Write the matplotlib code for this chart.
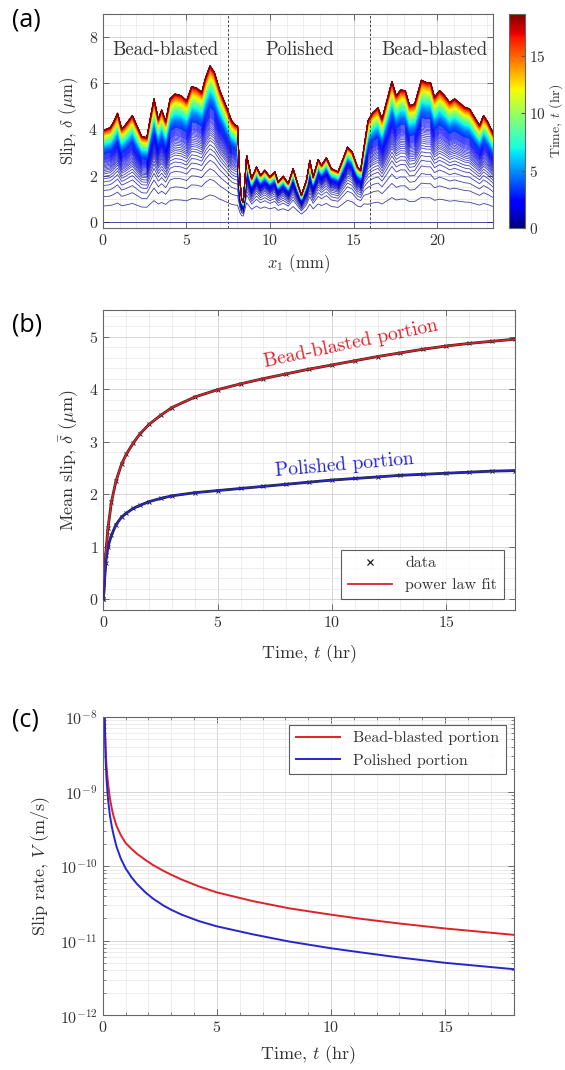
import numpy as np
import matplotlib as mpl
import matplotlib.pyplot as plt
from matplotlib.ticker import MultipleLocator, LogLocator, NullFormatter

plt.rcParams['font.family'] = 'serif'
plt.rcParams['font.serif'] = ['cmr10']
plt.rcParams['mathtext.fontset'] = 'cm'
plt.rcParams['axes.formatter.use_mathtext'] = True

# --- panel (a): final slip profile along the interface (t = end of test) ---
x_pos = [0.0, 0.44, 0.64, 0.88, 1.13, 1.33, 1.77, 2.03, 2.33, 2.63, 2.83, 3.06, 3.32,
         3.52, 3.76, 4.02, 4.32, 4.68, 5.01, 5.31, 5.61, 5.91, 6.15, 6.41, 6.67, 7.00,
         7.40, 7.70, 7.94, 8.06, 8.20, 8.30, 8.40, 8.60, 8.90, 9.19, 9.43, 9.69, 9.99,
         10.29, 10.49, 10.79, 11.09, 11.38, 11.68, 11.88, 12.18, 12.38, 12.58, 12.88,
         13.08, 13.37, 13.67, 14.07, 14.37, 14.63, 14.91, 15.23, 15.42, 15.62, 15.86,
         16.16, 16.46, 16.70, 17.29, 17.55, 17.81, 18.09, 18.35, 18.65, 19.05, 19.35,
         19.60, 19.84, 20.14, 20.44, 20.74, 21.04, 21.33, 21.63, 21.93, 22.23, 22.53,
         22.77, 23.03, 23.35]
slip_final = [3.95, 4.07, 4.31, 4.70, 4.02, 4.17, 4.60, 4.17, 3.69, 3.64, 4.45, 5.32, 4.45,
              4.84, 4.35, 5.32, 5.53, 5.46, 5.24, 5.85, 5.79, 5.60, 6.25, 6.75, 6.47, 5.68,
              4.96, 4.38, 4.17, 4.15, 1.80, 1.00, 0.85, 2.87, 1.87, 2.37, 2.01, 2.23, 1.94,
              2.16, 1.72, 1.97, 1.65, 2.30, 1.58, 1.15, 1.80, 2.66, 1.94, 2.69,
              2.44, 2.77, 2.30, 2.16, 2.73, 3.23, 3.02, 2.37, 2.23, 3.23, 4.38,
              4.74, 4.93, 4.45, 6.08, 5.46, 5.70, 5.68, 5.03, 5.10, 6.13, 6.03,
              6.03, 5.39, 5.68, 5.46, 5.17, 5.32, 5.15, 4.96, 4.89, 4.53, 4.17,
              4.60, 4.31, 3.81]
region_edges = [7.5, 16.0]
region_names = ['Bead-blasted', 'Polished', 'Bead-blasted']
region_text_x = [3.75, 11.8, 19.85]
snapshot_step = 0.1   # hr between profiles
t_end = 18.7

# --- panel (b): mean slip vs time ---
t_mean = [0, 0.1, 0.2, 0.35, 0.55, 0.8, 1.0, 1.3, 1.6, 2.0, 2.5, 3, 4, 5, 6, 7, 8, 9,
          10, 11, 12, 13, 14, 15, 16, 17, 18]
slip_bead = [0, 0.85, 1.35, 1.85, 2.25, 2.58, 2.76, 2.97, 3.15, 3.33, 3.50, 3.65, 3.85,
             3.99, 4.10, 4.20, 4.29, 4.38, 4.46, 4.54, 4.62, 4.69, 4.76, 4.82, 4.87,
             4.91, 4.95]
slip_pol = [0, 0.70, 1.00, 1.22, 1.42, 1.57, 1.64, 1.73, 1.79, 1.86, 1.92, 1.97, 2.03,
            2.07, 2.11, 2.15, 2.19, 2.23, 2.27, 2.30, 2.33, 2.36, 2.38, 2.40, 2.42,
            2.44, 2.45]

# --- panel (c): slip rate vs time (log10 m/s) ---
t_rate = [0.08, 0.12, 0.16, 0.20, 0.24, 0.31, 0.40, 0.47, 0.60, 0.79, 1.0, 1.26, 1.5,
          1.88, 2.2, 2.67, 3.0, 3.46, 4.2, 4.98, 6.6, 8.17, 10.0, 11.3, 12.9, 15.0, 18.0]
logv_bead = [-8.0, -8.40, -8.65, -8.80, -8.92, -9.09, -9.24, -9.33, -9.46, -9.585, -9.69,
             -9.77, -9.835, -9.92, -9.985, -10.065, -10.115, -10.18, -10.27, -10.35,
             -10.47, -10.565, -10.65, -10.705, -10.765, -10.835, -10.92]
logv_pol = [-8.0, -8.55, -8.83, -9.00, -9.14, -9.32, -9.48, -9.58, -9.74, -9.90, -10.03,
            -10.15, -10.24, -10.355, -10.435, -10.53, -10.585, -10.65, -10.735, -10.805,
            -10.915, -11.01, -11.10, -11.155, -11.22, -11.295, -11.38]

RED = '#e0202a'
BLUE = '#2525d0'
TXT = '#333333'


def style(ax, minor_len=0):
    ax.tick_params(which='both', direction='in', top=True, right=True,
                   labelsize=11.5, colors='#555555', labelcolor=TXT)
    ax.tick_params(which='major', length=4, width=0.6)
    ax.tick_params(which='minor', length=minor_len, width=0.5)
    ax.grid(which='major', color='#cfcfcf', lw=0.6)
    ax.grid(which='minor', color='#e6e6e6', lw=0.5)
    ax.set_axisbelow(True)
    for s in ax.spines.values():
        s.set_color('#666666')
        s.set_linewidth(0.8)


fig = plt.figure(figsize=(5.65, 10.7), dpi=100)

# ---------------- (a) ----------------
ax1 = fig.add_axes([0.182, 0.787, 0.691, 0.200])
xp = np.array(x_pos)
prof = np.array(slip_final)
# weight: 1 on bead-blasted parts, 0 on polished part
w_bead = np.interp(xp, [8.1, 8.35, 15.5, 15.8], [1, 0, 0, 1])
cmap = plt.get_cmap('jet')
norm = mpl.colors.Normalize(vmin=0, vmax=t_end)
times = np.arange(0, t_end + 1e-9, snapshot_step)
for t in times:
    r_b = np.interp(t, t_mean, slip_bead) / slip_bead[-1]
    r_p = np.interp(t, t_mean, slip_pol) / slip_pol[-1]
    ratio = w_bead * r_b + (1 - w_bead) * r_p
    ax1.plot(xp, prof * ratio, color=cmap(norm(t)), lw=0.6,
             alpha=0.75 if t < 3 else 1.0)
for xe in region_edges:
    ax1.axvline(xe, color='#444444', ls=(0, (2.5, 2)), lw=0.7)
for name, xt in zip(region_names, region_text_x):
    ax1.text(xt, 7.45, name, ha='center', va='center', fontsize=13.5, color=TXT)
ax1.set_xlim(0, 23.35)
ax1.set_ylim(-0.27, 9)
ax1.xaxis.set_major_locator(MultipleLocator(5))
ax1.xaxis.set_minor_locator(MultipleLocator(1))
ax1.yaxis.set_major_locator(MultipleLocator(2))
ax1.yaxis.set_minor_locator(MultipleLocator(0.5))
style(ax1)
ax1.set_xlabel(r'$x_1$ (mm)', fontsize=12, color=TXT, labelpad=3)
ax1.set_ylabel(r'Slip, $\delta$ ($\mu$m)', fontsize=12, color=TXT, labelpad=6)

cax = fig.add_axes([0.901, 0.787, 0.028, 0.200])
cb = fig.colorbar(mpl.cm.ScalarMappable(norm=norm, cmap=cmap), cax=cax)
cb.set_ticks([0, 5, 10, 15])
cb.ax.tick_params(labelsize=11, direction='in', length=3, colors='#555555',
                  labelcolor=TXT, pad=3)
cb.outline.set_edgecolor('#666666')
cb.outline.set_linewidth(0.8)
cb.set_label(r'Time, $t$ (hr)', fontsize=10, color=TXT, labelpad=1)

# ---------------- (b) ----------------
ax2 = fig.add_axes([0.183, 0.430, 0.728, 0.280])
for ys, col in [(slip_bead, RED), (slip_pol, BLUE)]:
    ax2.plot(t_mean, ys, '-', color='#222222', lw=2.0, zorder=2)
    ax2.plot(t_mean, ys, 'x', color='#222222', ms=3, mew=0.7, zorder=2)
    ax2.plot(t_mean, ys, '-', color=col, lw=1.2, zorder=3)
h_data, = ax2.plot([], [], 'x', color='#222222', ms=5, mew=0.9, label='data')
h_fit, = ax2.plot([], [], '-', color=RED, lw=1.3, label='power law fit')
ax2.text(10.85, 4.86, 'Bead-blasted portion', rotation=12, ha='center', va='center',
         fontsize=14, color=RED)
ax2.text(10.55, 2.55, 'Polished portion', rotation=5, ha='center', va='center',
         fontsize=14, color=BLUE)
ax2.set_xlim(0, 18)
ax2.set_ylim(-0.2, 5.5)
ax2.xaxis.set_major_locator(MultipleLocator(5))
ax2.xaxis.set_minor_locator(MultipleLocator(1))
ax2.yaxis.set_major_locator(MultipleLocator(1))
ax2.yaxis.set_minor_locator(MultipleLocator(0.2))
style(ax2)
leg = ax2.legend(handles=[h_data, h_fit], loc='lower right', fontsize=11.5,
                 frameon=True, fancybox=False, edgecolor='#333333', handlelength=2.8,
                 borderaxespad=0.7, labelcolor=TXT)
leg.get_frame().set_linewidth(0.8)
ax2.set_xlabel(r'Time, $t$ (hr)', fontsize=13, color=TXT, labelpad=9)
ax2.set_ylabel(r'Mean slip, $\bar{\delta}$ ($\mu$m)', fontsize=13, color=TXT, labelpad=6)

# ---------------- (c) ----------------
ax3 = fig.add_axes([0.182, 0.051, 0.727, 0.279])
ax3.plot(t_rate, 10 ** np.array(logv_bead), color=RED, lw=1.4, label='Bead-blasted portion')
ax3.plot(t_rate, 10 ** np.array(logv_pol), color=BLUE, lw=1.4, label='Polished portion')
ax3.set_yscale('log')
ax3.set_xlim(0, 18)
ax3.set_ylim(1e-12, 1e-8)
ax3.xaxis.set_major_locator(MultipleLocator(5))
ax3.xaxis.set_minor_locator(MultipleLocator(1))
ax3.yaxis.set_major_locator(LogLocator(base=10, numticks=10))
ax3.yaxis.set_minor_locator(LogLocator(base=10, subs=np.arange(2, 10), numticks=50))
ax3.yaxis.set_minor_formatter(NullFormatter())
style(ax3, minor_len=2)
leg3 = ax3.legend(loc='upper right', fontsize=11.5, frameon=True, fancybox=False,
                  edgecolor='#333333', handlelength=2.8, borderaxespad=0.5,
                  labelcolor=TXT)
leg3.get_frame().set_linewidth(0.8)
ax3.set_xlabel(r'Time, $t$ (hr)', fontsize=13, color=TXT, labelpad=6)
ax3.set_ylabel(r'Slip rate, $V$ (m/s)', fontsize=13, color=TXT, labelpad=6)

# panel letters
for lab, yy in [('(a)', 0.981), ('(b)', 0.696), ('(c)', 0.327)]:
    fig.text(0.022, yy, lab, family='Open Sans', fontsize=18, va='center', ha='left')

fig.savefig('out.png', dpi=100)
